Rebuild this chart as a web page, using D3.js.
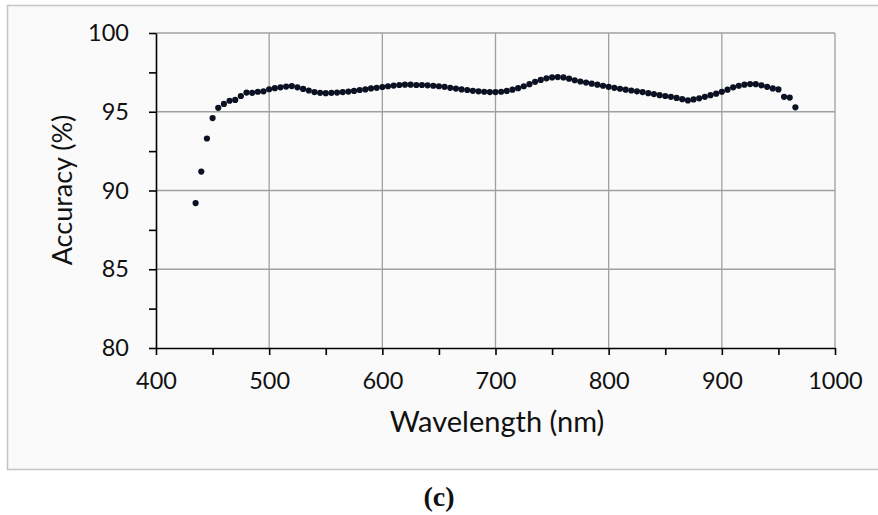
<!DOCTYPE html>
<html>
<head>
<meta charset="utf-8">
<script src="https://cdn.jsdelivr.net/npm/d3@7"></script>
<style>
  body { margin: 0; background: #fff; }
  svg { display: block; }
</style>
</head>
<body>
<svg id="chart" width="878" height="515"></svg>
<script>
// wavelength (nm), sampled every 5 nm
var wavelengths = [435, 440, 445, 450, 455, 460, 465, 470, 475, 480, 485, 490, 495,
  500, 505, 510, 515, 520, 525, 530, 535, 540, 545, 550, 555, 560, 565, 570, 575,
  580, 585, 590, 595, 600, 605, 610, 615, 620, 625, 630, 635, 640, 645, 650, 655,
  660, 665, 670, 675, 680, 685, 690, 695, 700, 705, 710, 715, 720, 725, 730, 735,
  740, 745, 750, 755, 760, 765, 770, 775, 780, 785, 790, 795, 800, 805, 810, 815,
  820, 825, 830, 835, 840, 845, 850, 855, 860, 865, 870, 875, 880, 885, 890, 895,
  900, 905, 910, 915, 920, 925, 930, 935, 940, 945, 950, 955, 960, 965];

// accuracy (%)
var accuracy = [89.2, 91.2, 93.3, 94.6, 95.25, 95.5, 95.7, 95.75, 96.0, 96.22, 96.2, 96.27, 96.3,
  96.43, 96.5, 96.55, 96.6, 96.63, 96.55, 96.45, 96.35, 96.25, 96.2, 96.18, 96.2, 96.22, 96.25, 96.28, 96.32,
  96.38, 96.42, 96.48, 96.52, 96.57, 96.62, 96.66, 96.7, 96.72, 96.72, 96.7, 96.7, 96.68, 96.65, 96.62, 96.58,
  96.52, 96.47, 96.42, 96.38, 96.33, 96.3, 96.27, 96.25, 96.25, 96.27, 96.32, 96.4, 96.5, 96.62, 96.75, 96.9,
  97.02, 97.12, 97.18, 97.2, 97.18, 97.1, 97.0, 96.92, 96.85, 96.78, 96.72, 96.65, 96.58, 96.52, 96.46, 96.4,
  96.35, 96.3, 96.25, 96.18, 96.12, 96.05, 96.0, 95.95, 95.88, 95.8, 95.72, 95.78, 95.85, 95.95, 96.05, 96.15,
  96.27, 96.4, 96.55, 96.65, 96.72, 96.76, 96.75, 96.68, 96.58, 96.48, 96.42, 95.95, 95.9, 95.28];

var xTicks = [400, 500, 600, 700, 800, 900, 1000];
var xMinorTicks = [450, 550, 650, 750, 850, 950];
var yTicks = [80, 85, 90, 95, 100];
var yMinorTicks = [82.5, 87.5, 92.5, 97.5];

var points = wavelengths.map(function (w, i) { return { w: w, a: accuracy[i] }; });

var svg = d3.select('#chart');
var font = 'Lato, "Open Sans", sans-serif';

// panel frame
svg.append('rect')
  .attr('x', 7.5).attr('y', 5.5)
  .attr('width', 880).attr('height', 464)
  .attr('fill', '#fafafa')
  .attr('stroke', '#c4c4c4')
  .attr('stroke-width', 1.5);

var xScale = d3.scaleLinear().domain([400, 1000]).range([156, 835]);
var yScale = d3.scaleLinear().domain([80, 100]).range([348, 33]);

// grid
svg.append('g')
  .selectAll('line')
  .data(yTicks.slice(1))
  .enter().append('line')
  .attr('x1', xScale(400)).attr('x2', xScale(1000))
  .attr('y1', function (d) { return yScale(d); })
  .attr('y2', function (d) { return yScale(d); })
  .attr('stroke', '#a0a0a0').attr('stroke-width', 1.3);

svg.append('g')
  .selectAll('line')
  .data(xTicks.slice(1))
  .enter().append('line')
  .attr('y1', yScale(80)).attr('y2', yScale(100))
  .attr('x1', function (d) { return xScale(d); })
  .attr('x2', function (d) { return xScale(d); })
  .attr('stroke', '#a0a0a0').attr('stroke-width', 1.3);

// axes
var xAxis = svg.append('g')
  .attr('transform', 'translate(0,' + yScale(80) + ')')
  .call(d3.axisBottom(xScale).tickValues(xTicks).tickFormat(d3.format('d'))
    .tickSize(7).tickPadding(17).tickSizeOuter(0));
xAxis.append('g')
  .call(d3.axisBottom(xScale).tickValues(xMinorTicks).tickSize(7).tickFormat(''))
  .select('.domain').remove();

var yAxis = svg.append('g')
  .attr('transform', 'translate(' + xScale(400) + ',0)')
  .call(d3.axisLeft(yScale).tickValues(yTicks).tickFormat(d3.format('d'))
    .tickSize(7).tickPadding(20).tickSizeOuter(0));
yAxis.append('g')
  .call(d3.axisLeft(yScale).tickValues(yMinorTicks).tickSize(7).tickFormat(''))
  .select('.domain').remove();

svg.selectAll('.domain, .tick line').attr('stroke', '#000').attr('stroke-width', 1.6);
svg.selectAll('.tick text')
  .attr('font-family', font)
  .attr('font-size', 23.5)
  .attr('fill', '#111');

// points
svg.append('g')
  .selectAll('circle')
  .data(points)
  .enter().append('circle')
  .attr('cx', function (d) { return xScale(d.w); })
  .attr('cy', function (d) { return yScale(d.a); })
  .attr('r', 3.1)
  .attr('fill', '#0b1122');

// axis titles
svg.append('text')
  .attr('x', 497).attr('y', 432)
  .attr('text-anchor', 'middle')
  .attr('font-family', font)
  .attr('font-size', 29)
  .attr('fill', '#111')
  .text('Wavelength (nm)');

svg.append('text')
  .attr('transform', 'translate(72,190) rotate(-90)')
  .attr('text-anchor', 'middle')
  .attr('font-family', font)
  .attr('font-size', 27)
  .attr('fill', '#111')
  .text('Accuracy (%)');

// panel label
svg.append('text')
  .attr('x', 439).attr('y', 506)
  .attr('text-anchor', 'middle')
  .attr('font-family', '"Liberation Serif", "DejaVu Serif", serif')
  .attr('font-weight', 'bold')
  .attr('font-size', 28)
  .attr('fill', '#111')
  .text('(c)');
</script>
</body>
</html>
